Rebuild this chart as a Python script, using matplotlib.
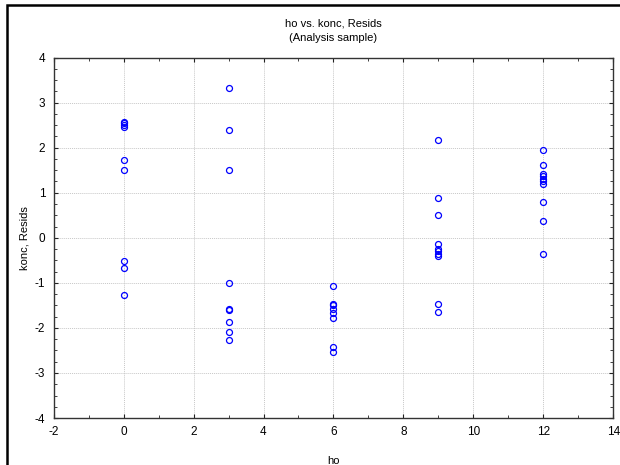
import matplotlib.pyplot as plt
from matplotlib.patches import Rectangle
from matplotlib.ticker import MultipleLocator

# residuals of konc, grouped by ho
ho_0 = [2.58, 2.54, 2.50, 2.46, 1.72, 1.51, -0.51, -0.67, -1.28]
ho_3 = [3.32, 2.39, 1.51, -1.00, -1.57, -1.60, -1.88, -2.10, -2.26]
ho_6 = [-1.08, -1.46, -1.50, -1.58, -1.66, -1.77, -2.43, -2.54]
ho_9 = [2.17, 0.88, 0.50, -0.13, -0.24, -0.30, -0.35, -0.41, -1.48, -1.65]
ho_12 = [1.94, 1.61, 1.41, 1.37, 1.31, 1.25, 1.19, 0.80, 0.37, -0.36]

groups = {0: ho_0, 3: ho_3, 6: ho_6, 9: ho_9, 12: ho_12}
x = [h for h, vals in groups.items() for _ in vals]
y = [v for vals in groups.values() for v in vals]

plt.rcParams['font.family'] = ['Liberation Sans', 'DejaVu Sans']
plt.rcParams['axes.unicode_minus'] = False

fig = plt.figure(figsize=(6.2, 4.65), dpi=100)
ax = fig.add_axes([0.0863, 0.101, 0.9032, 0.7753])

# outer frame, only left/top edges fall inside the image
fig.patches.append(Rectangle((7 / 620, -0.5), 2.0, 1.5 - 5 / 465, transform=fig.transFigure,
                             fill=False, edgecolor='black', linewidth=1.8))

ax.plot(x, y, 'o', markerfacecolor='none', markeredgecolor='#0000ff',
        markersize=4.3, markeredgewidth=0.9, clip_on=False)

ax.set_xlim(-2, 14)
ax.set_ylim(-4, 4)
ax.xaxis.set_major_locator(MultipleLocator(2))
ax.xaxis.set_minor_locator(MultipleLocator(1))
ax.yaxis.set_major_locator(MultipleLocator(1))
ax.yaxis.set_minor_locator(MultipleLocator(0.25))
ax.tick_params(which='both', direction='in', top=True, right=True,
               labelsize=8.5, colors='#222222', labelcolor='black')
ax.tick_params(which='major', length=3, width=0.8)
ax.tick_params(axis='x', which='major', pad=6)
ax.tick_params(axis='y', which='major', pad=6)
ax.tick_params(which='minor', length=2, width=0.6)
ax.grid(True, which='major', color='#c8c8c8', linestyle=(0, (1, 1)), linewidth=0.7)
for s in ax.spines.values():
    s.set_color('#333333')
    s.set_linewidth(1.0)

ax.set_title('ho vs. konc, Resids\n(Analysis sample)', fontsize=8, linespacing=1.6, pad=12)
ax.set_xlabel('ho', fontsize=8, labelpad=13)
ax.set_ylabel('konc, Resids', fontsize=8, labelpad=4)

fig.savefig('out.png', dpi=100)
